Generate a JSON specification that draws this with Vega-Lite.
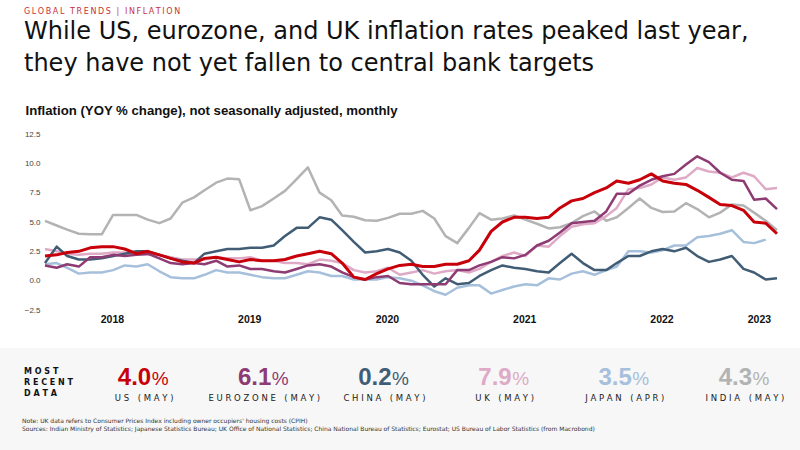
{
  "$schema": "https://vega.github.io/schema/vega-lite/v6.json",
  "background": "#f7f7f7",
  "padding": 0,
  "spacing": 0,
  "bounds": "flush",
  "config": {"view": {"stroke": null}},
  "vconcat": [
    {
      "width": 800,
      "height": 348,
      "view": {"fill": "#ffffff", "stroke": null},
      "title": {
        "text": "G\u2009L\u2009O\u2009B\u2009A\u2009L\u2009 \u2009T\u2009R\u2009E\u2009N\u2009D\u2009S\u2009 \u2009|\u2009 \u2009I\u2009N\u2009F\u2009L\u2009A\u2009T\u2009I\u2009O\u2009N",
        "subtitle": ["While US, eurozone, and UK inflation rates peaked last year,", "they have not yet fallen to central bank targets"],
        "anchor": "start",
        "frame": "group",
        "orient": "top",
        "offset": -76,
        "dx": 24,
        "font": "DejaVu Sans",
        "fontSize": 8,
        "fontWeight": "normal",
        "color": "#c8323a",
        "subtitleFont": "DejaVu Sans",
        "subtitleFontSize": 24,
        "subtitleColor": "#111111",
        "subtitleLineHeight": 32,
        "subtitlePadding": 4
      },
      "data": {
        "values": [
          {"month": "2018-01", "country": "India", "value": 5.1}, {"month": "2018-02", "country": "India", "value": 4.7}, {"month": "2018-03", "country": "India", "value": 4.35}, {"month": "2018-04", "country": "India", "value": 4.0}, {"month": "2018-05", "country": "India", "value": 3.95}, {"month": "2018-06", "country": "India", "value": 3.95}, {"month": "2018-07", "country": "India", "value": 5.6}, {"month": "2018-08", "country": "India", "value": 5.6}, {"month": "2018-09", "country": "India", "value": 5.6}, {"month": "2018-10", "country": "India", "value": 5.2}, {"month": "2018-11", "country": "India", "value": 4.9}, {"month": "2018-12", "country": "India", "value": 5.3},
          {"month": "2019-01", "country": "India", "value": 6.65}, {"month": "2019-02", "country": "India", "value": 7.1}, {"month": "2019-03", "country": "India", "value": 7.7}, {"month": "2019-04", "country": "India", "value": 8.35}, {"month": "2019-05", "country": "India", "value": 8.7}, {"month": "2019-06", "country": "India", "value": 8.65}, {"month": "2019-07", "country": "India", "value": 6.0}, {"month": "2019-08", "country": "India", "value": 6.35}, {"month": "2019-09", "country": "India", "value": 7.0}, {"month": "2019-10", "country": "India", "value": 7.65}, {"month": "2019-11", "country": "India", "value": 8.65}, {"month": "2019-12", "country": "India", "value": 9.65},
          {"month": "2020-01", "country": "India", "value": 7.5}, {"month": "2020-02", "country": "India", "value": 6.85}, {"month": "2020-03", "country": "India", "value": 5.55}, {"month": "2020-04", "country": "India", "value": 5.45}, {"month": "2020-05", "country": "India", "value": 5.15}, {"month": "2020-06", "country": "India", "value": 5.1}, {"month": "2020-07", "country": "India", "value": 5.35}, {"month": "2020-08", "country": "India", "value": 5.7}, {"month": "2020-09", "country": "India", "value": 5.7}, {"month": "2020-10", "country": "India", "value": 5.95}, {"month": "2020-11", "country": "India", "value": 5.3}, {"month": "2020-12", "country": "India", "value": 3.8},
          {"month": "2021-01", "country": "India", "value": 3.2}, {"month": "2021-02", "country": "India", "value": 4.5}, {"month": "2021-03", "country": "India", "value": 5.75}, {"month": "2021-04", "country": "India", "value": 5.2}, {"month": "2021-05", "country": "India", "value": 5.3}, {"month": "2021-06", "country": "India", "value": 5.55}, {"month": "2021-07", "country": "India", "value": 5.2}, {"month": "2021-08", "country": "India", "value": 4.85}, {"month": "2021-09", "country": "India", "value": 4.45}, {"month": "2021-10", "country": "India", "value": 4.55}, {"month": "2021-11", "country": "India", "value": 4.9}, {"month": "2021-12", "country": "India", "value": 5.5},
          {"month": "2022-01", "country": "India", "value": 5.9}, {"month": "2022-02", "country": "India", "value": 5.1}, {"month": "2022-03", "country": "India", "value": 5.4}, {"month": "2022-04", "country": "India", "value": 6.2}, {"month": "2022-05", "country": "India", "value": 7.0}, {"month": "2022-06", "country": "India", "value": 6.2}, {"month": "2022-07", "country": "India", "value": 5.85}, {"month": "2022-08", "country": "India", "value": 5.9}, {"month": "2022-09", "country": "India", "value": 6.6}, {"month": "2022-10", "country": "India", "value": 6.1}, {"month": "2022-11", "country": "India", "value": 5.4}, {"month": "2022-12", "country": "India", "value": 5.8},
          {"month": "2023-01", "country": "India", "value": 6.5}, {"month": "2023-02", "country": "India", "value": 6.4}, {"month": "2023-03", "country": "India", "value": 5.8}, {"month": "2023-04", "country": "India", "value": 5.1}, {"month": "2023-05", "country": "India", "value": 4.3},

          {"month": "2018-01", "country": "Japan", "value": 1.4}, {"month": "2018-02", "country": "Japan", "value": 1.5}, {"month": "2018-03", "country": "Japan", "value": 1.1}, {"month": "2018-04", "country": "Japan", "value": 0.6}, {"month": "2018-05", "country": "Japan", "value": 0.7}, {"month": "2018-06", "country": "Japan", "value": 0.7}, {"month": "2018-07", "country": "Japan", "value": 0.9}, {"month": "2018-08", "country": "Japan", "value": 1.3}, {"month": "2018-09", "country": "Japan", "value": 1.2}, {"month": "2018-10", "country": "Japan", "value": 1.4}, {"month": "2018-11", "country": "Japan", "value": 0.8}, {"month": "2018-12", "country": "Japan", "value": 0.3},
          {"month": "2019-01", "country": "Japan", "value": 0.2}, {"month": "2019-02", "country": "Japan", "value": 0.2}, {"month": "2019-03", "country": "Japan", "value": 0.5}, {"month": "2019-04", "country": "Japan", "value": 0.9}, {"month": "2019-05", "country": "Japan", "value": 0.7}, {"month": "2019-06", "country": "Japan", "value": 0.7}, {"month": "2019-07", "country": "Japan", "value": 0.5}, {"month": "2019-08", "country": "Japan", "value": 0.3}, {"month": "2019-09", "country": "Japan", "value": 0.2}, {"month": "2019-10", "country": "Japan", "value": 0.2}, {"month": "2019-11", "country": "Japan", "value": 0.5}, {"month": "2019-12", "country": "Japan", "value": 0.8},
          {"month": "2020-01", "country": "Japan", "value": 0.7}, {"month": "2020-02", "country": "Japan", "value": 0.4}, {"month": "2020-03", "country": "Japan", "value": 0.4}, {"month": "2020-04", "country": "Japan", "value": 0.1}, {"month": "2020-05", "country": "Japan", "value": 0.1}, {"month": "2020-06", "country": "Japan", "value": 0.1}, {"month": "2020-07", "country": "Japan", "value": 0.3}, {"month": "2020-08", "country": "Japan", "value": 0.2}, {"month": "2020-09", "country": "Japan", "value": 0.0}, {"month": "2020-10", "country": "Japan", "value": -0.4}, {"month": "2020-11", "country": "Japan", "value": -0.9}, {"month": "2020-12", "country": "Japan", "value": -1.2},
          {"month": "2021-01", "country": "Japan", "value": -0.6}, {"month": "2021-02", "country": "Japan", "value": -0.4}, {"month": "2021-03", "country": "Japan", "value": -0.4}, {"month": "2021-04", "country": "Japan", "value": -1.1}, {"month": "2021-05", "country": "Japan", "value": -0.8}, {"month": "2021-06", "country": "Japan", "value": -0.5}, {"month": "2021-07", "country": "Japan", "value": -0.3}, {"month": "2021-08", "country": "Japan", "value": -0.4}, {"month": "2021-09", "country": "Japan", "value": 0.2}, {"month": "2021-10", "country": "Japan", "value": 0.1}, {"month": "2021-11", "country": "Japan", "value": 0.6}, {"month": "2021-12", "country": "Japan", "value": 0.8},
          {"month": "2022-01", "country": "Japan", "value": 0.5}, {"month": "2022-02", "country": "Japan", "value": 0.9}, {"month": "2022-03", "country": "Japan", "value": 1.2}, {"month": "2022-04", "country": "Japan", "value": 2.5}, {"month": "2022-05", "country": "Japan", "value": 2.5}, {"month": "2022-06", "country": "Japan", "value": 2.4}, {"month": "2022-07", "country": "Japan", "value": 2.6}, {"month": "2022-08", "country": "Japan", "value": 3.0}, {"month": "2022-09", "country": "Japan", "value": 3.0}, {"month": "2022-10", "country": "Japan", "value": 3.7}, {"month": "2022-11", "country": "Japan", "value": 3.8}, {"month": "2022-12", "country": "Japan", "value": 4.0},
          {"month": "2023-01", "country": "Japan", "value": 4.3}, {"month": "2023-02", "country": "Japan", "value": 3.3}, {"month": "2023-03", "country": "Japan", "value": 3.2}, {"month": "2023-04", "country": "Japan", "value": 3.5},

          {"month": "2018-01", "country": "UK", "value": 2.7}, {"month": "2018-02", "country": "UK", "value": 2.5}, {"month": "2018-03", "country": "UK", "value": 2.3}, {"month": "2018-04", "country": "UK", "value": 2.2}, {"month": "2018-05", "country": "UK", "value": 2.3}, {"month": "2018-06", "country": "UK", "value": 2.3}, {"month": "2018-07", "country": "UK", "value": 2.4}, {"month": "2018-08", "country": "UK", "value": 2.4}, {"month": "2018-09", "country": "UK", "value": 2.2}, {"month": "2018-10", "country": "UK", "value": 2.2}, {"month": "2018-11", "country": "UK", "value": 2.2}, {"month": "2018-12", "country": "UK", "value": 2.0},
          {"month": "2019-01", "country": "UK", "value": 1.8}, {"month": "2019-02", "country": "UK", "value": 1.8}, {"month": "2019-03", "country": "UK", "value": 1.8}, {"month": "2019-04", "country": "UK", "value": 2.0}, {"month": "2019-05", "country": "UK", "value": 1.9}, {"month": "2019-06", "country": "UK", "value": 1.9}, {"month": "2019-07", "country": "UK", "value": 2.0}, {"month": "2019-08", "country": "UK", "value": 1.7}, {"month": "2019-09", "country": "UK", "value": 1.7}, {"month": "2019-10", "country": "UK", "value": 1.5}, {"month": "2019-11", "country": "UK", "value": 1.5}, {"month": "2019-12", "country": "UK", "value": 1.4},
          {"month": "2020-01", "country": "UK", "value": 1.8}, {"month": "2020-02", "country": "UK", "value": 1.7}, {"month": "2020-03", "country": "UK", "value": 1.5}, {"month": "2020-04", "country": "UK", "value": 0.9}, {"month": "2020-05", "country": "UK", "value": 0.7}, {"month": "2020-06", "country": "UK", "value": 0.8}, {"month": "2020-07", "country": "UK", "value": 1.1}, {"month": "2020-08", "country": "UK", "value": 0.5}, {"month": "2020-09", "country": "UK", "value": 0.7}, {"month": "2020-10", "country": "UK", "value": 0.9}, {"month": "2020-11", "country": "UK", "value": 0.6}, {"month": "2020-12", "country": "UK", "value": 0.8},
          {"month": "2021-01", "country": "UK", "value": 0.9}, {"month": "2021-02", "country": "UK", "value": 0.7}, {"month": "2021-03", "country": "UK", "value": 1.0}, {"month": "2021-04", "country": "UK", "value": 1.6}, {"month": "2021-05", "country": "UK", "value": 2.1}, {"month": "2021-06", "country": "UK", "value": 2.4}, {"month": "2021-07", "country": "UK", "value": 2.1}, {"month": "2021-08", "country": "UK", "value": 3.0}, {"month": "2021-09", "country": "UK", "value": 2.9}, {"month": "2021-10", "country": "UK", "value": 3.8}, {"month": "2021-11", "country": "UK", "value": 4.6}, {"month": "2021-12", "country": "UK", "value": 4.8},
          {"month": "2022-01", "country": "UK", "value": 4.9}, {"month": "2022-02", "country": "UK", "value": 5.5}, {"month": "2022-03", "country": "UK", "value": 6.2}, {"month": "2022-04", "country": "UK", "value": 7.8}, {"month": "2022-05", "country": "UK", "value": 7.9}, {"month": "2022-06", "country": "UK", "value": 8.2}, {"month": "2022-07", "country": "UK", "value": 8.8}, {"month": "2022-08", "country": "UK", "value": 8.6}, {"month": "2022-09", "country": "UK", "value": 8.8}, {"month": "2022-10", "country": "UK", "value": 9.6}, {"month": "2022-11", "country": "UK", "value": 9.3}, {"month": "2022-12", "country": "UK", "value": 9.2},
          {"month": "2023-01", "country": "UK", "value": 8.8}, {"month": "2023-02", "country": "UK", "value": 9.2}, {"month": "2023-03", "country": "UK", "value": 8.9}, {"month": "2023-04", "country": "UK", "value": 7.8}, {"month": "2023-05", "country": "UK", "value": 7.9},

          {"month": "2018-01", "country": "China", "value": 1.5}, {"month": "2018-02", "country": "China", "value": 2.9}, {"month": "2018-03", "country": "China", "value": 2.1}, {"month": "2018-04", "country": "China", "value": 1.8}, {"month": "2018-05", "country": "China", "value": 1.8}, {"month": "2018-06", "country": "China", "value": 1.9}, {"month": "2018-07", "country": "China", "value": 2.1}, {"month": "2018-08", "country": "China", "value": 2.3}, {"month": "2018-09", "country": "China", "value": 2.5}, {"month": "2018-10", "country": "China", "value": 2.5}, {"month": "2018-11", "country": "China", "value": 2.2}, {"month": "2018-12", "country": "China", "value": 1.9},
          {"month": "2019-01", "country": "China", "value": 1.7}, {"month": "2019-02", "country": "China", "value": 1.5}, {"month": "2019-03", "country": "China", "value": 2.3}, {"month": "2019-04", "country": "China", "value": 2.5}, {"month": "2019-05", "country": "China", "value": 2.7}, {"month": "2019-06", "country": "China", "value": 2.7}, {"month": "2019-07", "country": "China", "value": 2.8}, {"month": "2019-08", "country": "China", "value": 2.8}, {"month": "2019-09", "country": "China", "value": 3.0}, {"month": "2019-10", "country": "China", "value": 3.8}, {"month": "2019-11", "country": "China", "value": 4.5}, {"month": "2019-12", "country": "China", "value": 4.5},
          {"month": "2020-01", "country": "China", "value": 5.4}, {"month": "2020-02", "country": "China", "value": 5.2}, {"month": "2020-03", "country": "China", "value": 4.3}, {"month": "2020-04", "country": "China", "value": 3.3}, {"month": "2020-05", "country": "China", "value": 2.4}, {"month": "2020-06", "country": "China", "value": 2.5}, {"month": "2020-07", "country": "China", "value": 2.7}, {"month": "2020-08", "country": "China", "value": 2.4}, {"month": "2020-09", "country": "China", "value": 1.7}, {"month": "2020-10", "country": "China", "value": 0.5}, {"month": "2020-11", "country": "China", "value": -0.5}, {"month": "2020-12", "country": "China", "value": 0.2},
          {"month": "2021-01", "country": "China", "value": -0.3}, {"month": "2021-02", "country": "China", "value": -0.2}, {"month": "2021-03", "country": "China", "value": 0.4}, {"month": "2021-04", "country": "China", "value": 0.9}, {"month": "2021-05", "country": "China", "value": 1.3}, {"month": "2021-06", "country": "China", "value": 1.1}, {"month": "2021-07", "country": "China", "value": 1.0}, {"month": "2021-08", "country": "China", "value": 0.8}, {"month": "2021-09", "country": "China", "value": 0.7}, {"month": "2021-10", "country": "China", "value": 1.5}, {"month": "2021-11", "country": "China", "value": 2.3}, {"month": "2021-12", "country": "China", "value": 1.5},
          {"month": "2022-01", "country": "China", "value": 0.9}, {"month": "2022-02", "country": "China", "value": 0.9}, {"month": "2022-03", "country": "China", "value": 1.5}, {"month": "2022-04", "country": "China", "value": 2.1}, {"month": "2022-05", "country": "China", "value": 2.1}, {"month": "2022-06", "country": "China", "value": 2.5}, {"month": "2022-07", "country": "China", "value": 2.7}, {"month": "2022-08", "country": "China", "value": 2.5}, {"month": "2022-09", "country": "China", "value": 2.8}, {"month": "2022-10", "country": "China", "value": 2.1}, {"month": "2022-11", "country": "China", "value": 1.6}, {"month": "2022-12", "country": "China", "value": 1.8},
          {"month": "2023-01", "country": "China", "value": 2.1}, {"month": "2023-02", "country": "China", "value": 1.0}, {"month": "2023-03", "country": "China", "value": 0.7}, {"month": "2023-04", "country": "China", "value": 0.1}, {"month": "2023-05", "country": "China", "value": 0.2},

          {"month": "2018-01", "country": "Eurozone", "value": 1.3}, {"month": "2018-02", "country": "Eurozone", "value": 1.1}, {"month": "2018-03", "country": "Eurozone", "value": 1.4}, {"month": "2018-04", "country": "Eurozone", "value": 1.2}, {"month": "2018-05", "country": "Eurozone", "value": 2.0}, {"month": "2018-06", "country": "Eurozone", "value": 2.0}, {"month": "2018-07", "country": "Eurozone", "value": 2.2}, {"month": "2018-08", "country": "Eurozone", "value": 2.1}, {"month": "2018-09", "country": "Eurozone", "value": 2.2}, {"month": "2018-10", "country": "Eurozone", "value": 2.3}, {"month": "2018-11", "country": "Eurozone", "value": 1.9}, {"month": "2018-12", "country": "Eurozone", "value": 1.5},
          {"month": "2019-01", "country": "Eurozone", "value": 1.4}, {"month": "2019-02", "country": "Eurozone", "value": 1.5}, {"month": "2019-03", "country": "Eurozone", "value": 1.4}, {"month": "2019-04", "country": "Eurozone", "value": 1.7}, {"month": "2019-05", "country": "Eurozone", "value": 1.2}, {"month": "2019-06", "country": "Eurozone", "value": 1.3}, {"month": "2019-07", "country": "Eurozone", "value": 1.0}, {"month": "2019-08", "country": "Eurozone", "value": 1.0}, {"month": "2019-09", "country": "Eurozone", "value": 0.8}, {"month": "2019-10", "country": "Eurozone", "value": 0.7}, {"month": "2019-11", "country": "Eurozone", "value": 1.0}, {"month": "2019-12", "country": "Eurozone", "value": 1.3},
          {"month": "2020-01", "country": "Eurozone", "value": 1.4}, {"month": "2020-02", "country": "Eurozone", "value": 1.2}, {"month": "2020-03", "country": "Eurozone", "value": 0.7}, {"month": "2020-04", "country": "Eurozone", "value": 0.3}, {"month": "2020-05", "country": "Eurozone", "value": 0.1}, {"month": "2020-06", "country": "Eurozone", "value": 0.3}, {"month": "2020-07", "country": "Eurozone", "value": 0.4}, {"month": "2020-08", "country": "Eurozone", "value": -0.2}, {"month": "2020-09", "country": "Eurozone", "value": -0.3}, {"month": "2020-10", "country": "Eurozone", "value": -0.3}, {"month": "2020-11", "country": "Eurozone", "value": -0.3}, {"month": "2020-12", "country": "Eurozone", "value": -0.3},
          {"month": "2021-01", "country": "Eurozone", "value": 0.9}, {"month": "2021-02", "country": "Eurozone", "value": 0.9}, {"month": "2021-03", "country": "Eurozone", "value": 1.3}, {"month": "2021-04", "country": "Eurozone", "value": 1.6}, {"month": "2021-05", "country": "Eurozone", "value": 2.0}, {"month": "2021-06", "country": "Eurozone", "value": 1.9}, {"month": "2021-07", "country": "Eurozone", "value": 2.2}, {"month": "2021-08", "country": "Eurozone", "value": 3.0}, {"month": "2021-09", "country": "Eurozone", "value": 3.4}, {"month": "2021-10", "country": "Eurozone", "value": 4.1}, {"month": "2021-11", "country": "Eurozone", "value": 4.9}, {"month": "2021-12", "country": "Eurozone", "value": 5.0},
          {"month": "2022-01", "country": "Eurozone", "value": 5.1}, {"month": "2022-02", "country": "Eurozone", "value": 5.9}, {"month": "2022-03", "country": "Eurozone", "value": 7.4}, {"month": "2022-04", "country": "Eurozone", "value": 7.4}, {"month": "2022-05", "country": "Eurozone", "value": 8.1}, {"month": "2022-06", "country": "Eurozone", "value": 8.6}, {"month": "2022-07", "country": "Eurozone", "value": 8.9}, {"month": "2022-08", "country": "Eurozone", "value": 9.1}, {"month": "2022-09", "country": "Eurozone", "value": 9.9}, {"month": "2022-10", "country": "Eurozone", "value": 10.6}, {"month": "2022-11", "country": "Eurozone", "value": 10.1}, {"month": "2022-12", "country": "Eurozone", "value": 9.2},
          {"month": "2023-01", "country": "Eurozone", "value": 8.6}, {"month": "2023-02", "country": "Eurozone", "value": 8.5}, {"month": "2023-03", "country": "Eurozone", "value": 6.9}, {"month": "2023-04", "country": "Eurozone", "value": 7.0}, {"month": "2023-05", "country": "Eurozone", "value": 6.1},

          {"month": "2018-01", "country": "US", "value": 2.1}, {"month": "2018-02", "country": "US", "value": 2.2}, {"month": "2018-03", "country": "US", "value": 2.4}, {"month": "2018-04", "country": "US", "value": 2.5}, {"month": "2018-05", "country": "US", "value": 2.8}, {"month": "2018-06", "country": "US", "value": 2.9}, {"month": "2018-07", "country": "US", "value": 2.9}, {"month": "2018-08", "country": "US", "value": 2.7}, {"month": "2018-09", "country": "US", "value": 2.3}, {"month": "2018-10", "country": "US", "value": 2.5}, {"month": "2018-11", "country": "US", "value": 2.2}, {"month": "2018-12", "country": "US", "value": 1.9},
          {"month": "2019-01", "country": "US", "value": 1.6}, {"month": "2019-02", "country": "US", "value": 1.5}, {"month": "2019-03", "country": "US", "value": 1.9}, {"month": "2019-04", "country": "US", "value": 2.0}, {"month": "2019-05", "country": "US", "value": 1.8}, {"month": "2019-06", "country": "US", "value": 1.6}, {"month": "2019-07", "country": "US", "value": 1.8}, {"month": "2019-08", "country": "US", "value": 1.7}, {"month": "2019-09", "country": "US", "value": 1.7}, {"month": "2019-10", "country": "US", "value": 1.8}, {"month": "2019-11", "country": "US", "value": 2.1}, {"month": "2019-12", "country": "US", "value": 2.3},
          {"month": "2020-01", "country": "US", "value": 2.5}, {"month": "2020-02", "country": "US", "value": 2.3}, {"month": "2020-03", "country": "US", "value": 1.5}, {"month": "2020-04", "country": "US", "value": 0.3}, {"month": "2020-05", "country": "US", "value": 0.1}, {"month": "2020-06", "country": "US", "value": 0.6}, {"month": "2020-07", "country": "US", "value": 1.0}, {"month": "2020-08", "country": "US", "value": 1.3}, {"month": "2020-09", "country": "US", "value": 1.4}, {"month": "2020-10", "country": "US", "value": 1.2}, {"month": "2020-11", "country": "US", "value": 1.2}, {"month": "2020-12", "country": "US", "value": 1.4},
          {"month": "2021-01", "country": "US", "value": 1.4}, {"month": "2021-02", "country": "US", "value": 1.7}, {"month": "2021-03", "country": "US", "value": 2.6}, {"month": "2021-04", "country": "US", "value": 4.2}, {"month": "2021-05", "country": "US", "value": 5.0}, {"month": "2021-06", "country": "US", "value": 5.4}, {"month": "2021-07", "country": "US", "value": 5.4}, {"month": "2021-08", "country": "US", "value": 5.3}, {"month": "2021-09", "country": "US", "value": 5.4}, {"month": "2021-10", "country": "US", "value": 6.2}, {"month": "2021-11", "country": "US", "value": 6.8}, {"month": "2021-12", "country": "US", "value": 7.0},
          {"month": "2022-01", "country": "US", "value": 7.5}, {"month": "2022-02", "country": "US", "value": 7.9}, {"month": "2022-03", "country": "US", "value": 8.5}, {"month": "2022-04", "country": "US", "value": 8.3}, {"month": "2022-05", "country": "US", "value": 8.6}, {"month": "2022-06", "country": "US", "value": 9.1}, {"month": "2022-07", "country": "US", "value": 8.5}, {"month": "2022-08", "country": "US", "value": 8.3}, {"month": "2022-09", "country": "US", "value": 8.2}, {"month": "2022-10", "country": "US", "value": 7.7}, {"month": "2022-11", "country": "US", "value": 7.1}, {"month": "2022-12", "country": "US", "value": 6.5},
          {"month": "2023-01", "country": "US", "value": 6.4}, {"month": "2023-02", "country": "US", "value": 6.0}, {"month": "2023-03", "country": "US", "value": 5.0}, {"month": "2023-04", "country": "US", "value": 4.9}, {"month": "2023-05", "country": "US", "value": 4.0}
        ]
      },
      "encoding": {
        "x": {
          "field": "month",
          "type": "temporal",
          "scale": {
            "type": "utc",
            "domain": [{"year": 2018, "month": 1, "date": 1, "utc": true}, {"year": 2023, "month": 5, "date": 1, "utc": true}],
            "range": [45, 777]
          },
          "axis": {
            "values": [
              {"year": 2018, "month": 6, "date": 28, "utc": true},
              {"year": 2019, "month": 6, "date": 28, "utc": true},
              {"year": 2020, "month": 6, "date": 28, "utc": true},
              {"year": 2021, "month": 6, "date": 28, "utc": true},
              {"year": 2022, "month": 6, "date": 28, "utc": true},
              {"year": 2023, "month": 3, "date": 14, "utc": true}
            ],
            "format": "%Y",
            "title": null,
            "domain": false,
            "ticks": false,
            "grid": false,
            "labelFont": "Liberation Sans",
            "labelFontSize": 10.5,
            "labelFontWeight": "bold",
            "labelColor": "#111111",
            "labelPadding": 2,
            "labelOverlap": false,
            "labelFlush": false,
            "offset": -36
          }
        },
        "y": {
          "field": "value",
          "type": "quantitative",
          "scale": {"domain": [-2.5, 12.5], "range": [310, 134], "nice": false, "zero": false},
          "axis": {
            "values": [-2.5, 0, 2.5, 5, 7.5, 10, 12.5],
            "format": ".1f",
            "title": "Inflation (YOY % change), not seasonally adjusted, monthly",
            "titleX": -17,
            "titleY": 114.5,
            "titleAngle": 0,
            "titleAlign": "left",
            "titleBaseline": "alphabetic",
            "titleFont": "Liberation Sans",
            "titleFontSize": 13.2,
            "titleFontWeight": "bold",
            "titleColor": "#111111",
            "domain": false,
            "ticks": false,
            "grid": false,
            "labelFont": "Liberation Sans",
            "labelFontSize": 8,
            "labelColor": "#444444",
            "labelPadding": 2,
            "labelOverlap": false,
            "offset": -42
          }
        }
      },
      "layer": [
        {
          "data": {"values": [{"value": 0}]},
          "mark": {"type": "rule", "color": "#8c8c8c", "strokeWidth": 1.5},
          "encoding": {
            "x": {"datum": {"year": 2018, "month": 1, "date": 1, "utc": true}, "type": "temporal"},
            "x2": {"datum": {"year": 2023, "month": 5, "date": 1, "utc": true}}
          }
        },
        {
          "mark": {"type": "line", "strokeJoin": "round", "strokeCap": "butt"},
          "encoding": {
            "color": {
              "field": "country",
              "type": "nominal",
              "scale": {
                "domain": ["US", "Eurozone", "China", "UK", "Japan", "India"],
                "range": ["#c8000a", "#8e3b73", "#415d75", "#deaac6", "#a6c0dc", "#b3b3b3"]
              },
              "legend": null
            },
            "strokeWidth": {"condition": {"test": "datum.country === 'US'", "value": 3}, "value": 2.5}
          }
        }
      ]
    },
    {
      "width": 800,
      "height": 102,
      "view": {"fill": "#f7f7f7", "stroke": null},
      "data": {
        "values": [
          {"key": "US", "latest": 4.0, "period": "U S\u2003( M A Y )"},
          {"key": "Eurozone", "latest": 6.1, "period": "E U R O Z O N E\u2003( M A Y )"},
          {"key": "China", "latest": 0.2, "period": "C H I N A\u2003( M A Y )"},
          {"key": "UK", "latest": 7.9, "period": "U K\u2003( M A Y )"},
          {"key": "Japan", "latest": 3.5, "period": "J A P A N\u2003( A P R )"},
          {"key": "India", "latest": 4.3, "period": "I N D I A\u2003( M A Y )"}
        ]
      },
      "encoding": {
        "x": {
          "field": "key",
          "type": "nominal",
          "scale": {"domain": ["head", "US", "Eurozone", "China", "UK", "Japan", "India"], "range": [24, 745], "padding": 0},
          "axis": null
        }
      },
      "layer": [
        {
          "mark": {"type": "text", "align": "right", "dx": 7, "baseline": "alphabetic", "font": "Liberation Sans", "fontSize": 24, "fontWeight": "bold"},
          "encoding": {
            "y": {"datum": "figure", "type": "nominal", "scale": {"domain": ["heading", "figure", "period", "note"], "range": [20, 70], "padding": 0}, "axis": null},
            "text": {"field": "latest", "type": "quantitative", "format": ".1f"},
            "color": {
              "field": "key",
              "type": "nominal",
              "scale": {
                "domain": ["US", "Eurozone", "China", "UK", "Japan", "India"],
                "range": ["#c8000a", "#8e3b73", "#415d75", "#deaac6", "#a6c0dc", "#b3b3b3"]
              },
              "legend": null
            }
          }
        },
        {
          "mark": {"type": "text", "align": "left", "dx": 7.5, "baseline": "alphabetic", "font": "Liberation Sans", "fontSize": 19, "fontWeight": "normal"},
          "encoding": {
            "y": {"datum": "figure", "type": "nominal"},
            "text": {"value": "%"},
            "color": {"field": "key", "type": "nominal", "legend": null}
          }
        },
        {
          "mark": {"type": "text", "align": "center", "baseline": "alphabetic", "font": "DejaVu Sans", "fontSize": 8.5, "color": "#222222"},
          "encoding": {
            "y": {"datum": "period", "type": "nominal"},
            "text": {"field": "period", "type": "nominal"}
          }
        },
        {
          "data": {"values": [{"heading": "M O S T\nR E C E N T\nD A T A"}]},
          "mark": {"type": "text", "align": "left", "baseline": "top", "lineBreak": "\n", "lineHeight": 11, "font": "DejaVu Sans", "fontSize": 8, "fontWeight": "bold", "color": "#111111"},
          "encoding": {
            "x": {"datum": "head", "type": "nominal"},
            "y": {"datum": "heading", "type": "nominal"},
            "text": {"field": "heading", "type": "nominal"}
          }
        },
        {
          "data": {"values": [{"note": "Note: UK data refers to Consumer Prices Index including owner occupiers' housing costs (CPIH)\nSources: Indian Ministry of Statistics; Japanese Statistics Bureau; UK Office of National Statistics; China National Bureau of Statistics; Eurostat; US Bureau of Labor Statistics (from Macrobond)"}]},
          "mark": {"type": "text", "align": "left", "baseline": "top", "lineBreak": "\n", "lineHeight": 8, "font": "DejaVu Sans", "fontSize": 6, "color": "#333333", "dx": -2},
          "encoding": {
            "x": {"datum": "head", "type": "nominal"},
            "y": {"datum": "note", "type": "nominal"},
            "text": {"field": "note", "type": "nominal"}
          }
        }
      ]
    }
  ]
}
